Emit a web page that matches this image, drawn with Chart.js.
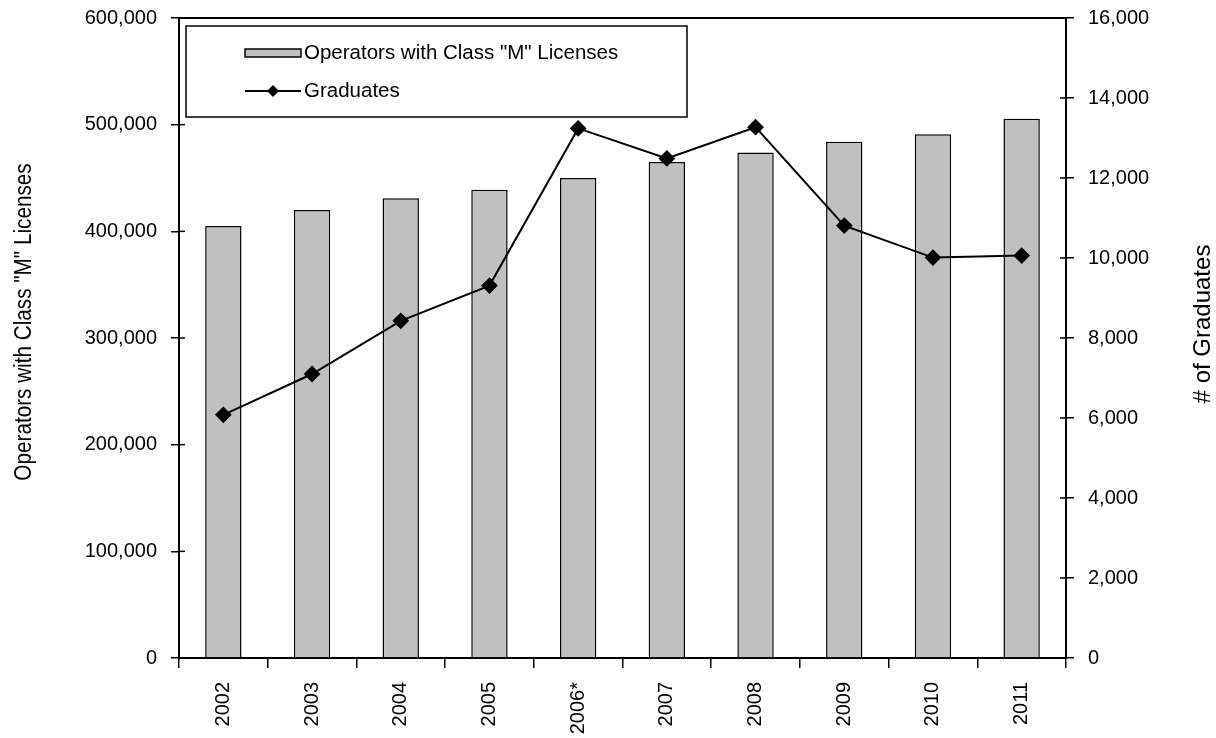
<!DOCTYPE html>
<html>
<head>
<meta charset="utf-8">
<script src="https://cdn.jsdelivr.net/npm/chart.js@4"></script>
<style>
  body { margin: 0; background: #fff; }
  #wrap { width: 1216px; height: 738px; }
</style>
</head>
<body>
<div id="wrap"><canvas id="chart"></canvas></div>
<script>
const years = ["2002", "2003", "2004", "2005", "2006*", "2007", "2008", "2009", "2010", "2011"];
const licenses = [405000, 420000, 431000, 439000, 450000, 465000, 474000, 484000, 491000, 505500];
const graduates = [6080, 7100, 8430, 9310, 13240, 12490, 13270, 10810, 10010, 10060];

const leftTitle = 'Operators with Class "M" Licenses';
const rightTitle = "# of Graduates";

const FONT = "'Liberation Sans', Arial, sans-serif";

// legend box, frame top line, inner tick marks and axis titles
const decor = {
  id: "decor",
  afterDraw(chart) {
    const c = chart.ctx;
    const a = chart.chartArea;
    c.save();
    c.strokeStyle = "#000";
    c.fillStyle = "#000";
    c.lineWidth = 2;
    c.beginPath();
    c.moveTo(a.left, a.top);
    c.lineTo(a.right, a.top);
    c.stroke();

    // ticks crossing into the plot
    c.lineWidth = 1.5;
    const yl = chart.scales.y, yr = chart.scales.y2;
    yl.ticks.forEach((t) => {
      const py = yl.getPixelForValue(t.value);
      c.beginPath(); c.moveTo(a.left, py); c.lineTo(a.left + 6, py); c.stroke();
    });
    yr.ticks.forEach((t) => {
      const py = yr.getPixelForValue(t.value);
      c.beginPath(); c.moveTo(a.right - 6, py); c.lineTo(a.right, py); c.stroke();
    });

    // axis titles (both read bottom-to-top)
    c.textAlign = "center";
    c.textBaseline = "middle";
    c.font = "23px " + FONT;
    c.save();
    c.translate(25, 322);
    c.rotate(-Math.PI / 2);
    c.scale(0.9, 1);
    c.fillText(leftTitle, 0, 0);
    c.restore();
    c.save();
    c.translate(1203, 324);
    c.rotate(-Math.PI / 2);
    c.font = "24px " + FONT;
    c.fillText(rightTitle, 0, 0);
    c.restore();

    // legend
    c.fillStyle = "#fff";
    c.fillRect(186, 26, 501, 91);
    c.lineWidth = 1.5;
    c.strokeRect(186, 26, 501, 91);

    const bar = chart.data.datasets.find((d) => d.type === "bar");
    const line = chart.data.datasets.find((d) => d.type === "line");
    c.font = "20.5px " + FONT;
    c.textAlign = "left";

    c.fillStyle = bar.backgroundColor;
    c.fillRect(245, 49, 56, 8);
    c.strokeRect(245, 49, 56, 8);
    c.fillStyle = "#000";
    c.fillText(bar.label, 304, 53);

    c.lineWidth = 2;
    c.beginPath();
    c.moveTo(245, 91);
    c.lineTo(301, 91);
    c.stroke();
    c.beginPath();
    c.moveTo(273, 85);
    c.lineTo(279, 91);
    c.lineTo(273, 97);
    c.lineTo(267, 91);
    c.closePath();
    c.fill();
    c.fillText(line.label, 304, 91);
    c.restore();
  }
};

new Chart(document.getElementById("chart"), {
  data: {
    labels: years,
    datasets: [
      {
        type: "line",
        label: "Graduates",
        data: graduates,
        yAxisID: "y2",
        borderColor: "#000",
        borderWidth: 2,
        pointStyle: "rectRot",
        pointRadius: 7,
        pointBackgroundColor: "#000",
        pointBorderColor: "#000",
        tension: 0,
        order: 0,
      },
      {
        type: "bar",
        label: leftTitle,
        data: licenses,
        yAxisID: "y",
        backgroundColor: "#c0c0c0",
        borderColor: "#000",
        borderWidth: 1.5,
        categoryPercentage: 1,
        barPercentage: 0.41,
        order: 1,
      },
    ],
  },
  options: {
    responsive: true,
    maintainAspectRatio: false,
    animation: false,
    layout: { padding: { top: 18, left: 0, right: 0, bottom: 0 } },
    scales: {
      x: {
        grid: {
          offset: true,
          drawOnChartArea: false,
          tickLength: 10,
          color: "#000",
          lineWidth: 1.5,
        },
        border: { color: "#000", width: 2 },
        ticks: {
          color: "#000",
          font: { family: FONT, size: 20 },
          minRotation: 90,
          maxRotation: 90,
          padding: 14,
        },
        afterFit(s) { s.height = 80; },
      },
      y: {
        position: "left",
        min: 0,
        max: 600000,
        ticks: {
          stepSize: 100000,
          color: "#000",
          font: { family: FONT, size: 20 },
          padding: 14,
          callback: (v) => v.toLocaleString("en-US"),
        },
        grid: { drawOnChartArea: false, tickLength: 8, color: "#000", lineWidth: 1.5 },
        border: { color: "#000", width: 2 },
        afterFit(s) { s.width = 179; s.paddingTop = 0; s.paddingBottom = 0; },
      },
      y2: {
        position: "right",
        min: 0,
        max: 16000,
        ticks: {
          stepSize: 2000,
          color: "#000",
          font: { family: FONT, size: 20 },
          padding: 14,
          callback: (v) => v.toLocaleString("en-US"),
        },
        grid: { drawOnChartArea: false, tickLength: 8, color: "#000", lineWidth: 1.5 },
        border: { color: "#000", width: 2 },
        afterFit(s) { s.width = 150; s.paddingTop = 0; s.paddingBottom = 0; },
      },
    },
    plugins: {
      legend: { display: false },
      tooltip: { enabled: false },
    },
  },
  plugins: [decor],
});
</script>
</body>
</html>
